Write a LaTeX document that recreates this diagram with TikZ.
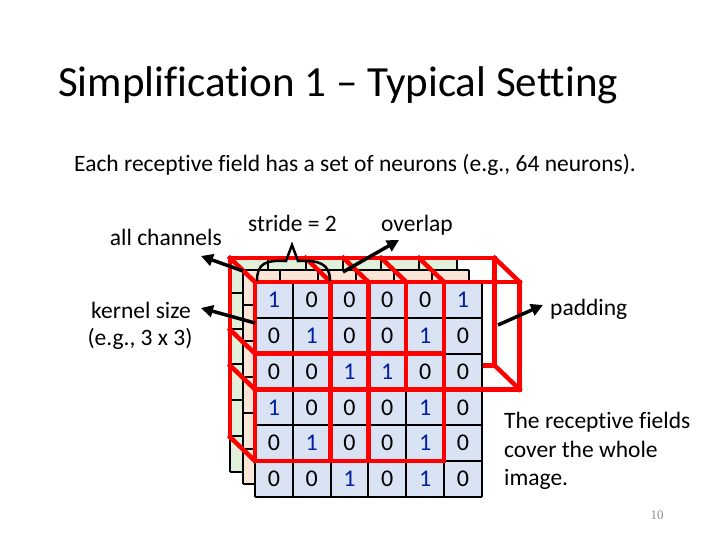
\documentclass[tikz,border=0pt]{standalone}
\usepackage{fontspec}
\setmainfont[Ligatures=CommonOff]{Carlito}
\newfontfamily\pagefont{Liberation Serif}
\usepackage{xcolor}
\usepackage{tikz}
\usetikzlibrary{arrows.meta}

\definecolor{cellblue}{RGB}{218,227,243}
\definecolor{cellpeach}{RGB}{251,229,214}
\definecolor{cellgreen}{RGB}{226,240,217}
\definecolor{kernred}{RGB}{255,0,0}
\definecolor{onesblue}{RGB}{0,32,160}

\begin{document}
\begin{tikzpicture}[x=1pt, y=-1pt,
  lbl/.style={font=\fontsize{23.5}{28}\selectfont, inner sep=0pt},
  gridline/.style={black, line width=2pt},
  kern/.style={kernred, line width=4.5pt, line join=miter, line cap=rect},
  pointer/.style={black, line width=3.5pt, -{Triangle[length=12pt,width=12pt]}},
  num0/.style={font=\fontsize{24}{28}\selectfont, black},
  num1/.style={font=\fontsize{24}{28}\selectfont, onesblue}]
  \useasboundingbox (0,0) rectangle (720,540);

  % ---- back channels (green, peach) ----
  \foreach \d/\shade in {25/cellgreen, 12.5/cellpeach} {
    \fill[\shade] (255-\d,282-\d) rectangle ++(226.8,214.8);
    \foreach \i in {0,...,6} {
      \draw[gridline] (255-\d+\i*37.8,282-\d) -- ++(0,214.8);
      \draw[gridline] (255-\d,282-\d+\i*35.8) -- ++(226.8,0);
    }
  }

  % ---- kernel boxes: back edges and depth lines ----
  \draw[kern] (230,437) -- (230,258) -- (494.6,258) -- (494.6,365.4) -- (470,365.4);
  \foreach \c in {0,2,3,4,5,7} {
    \draw[kern] (255+\c*37.8,282) -- ++(-25,-24);
  }
  \foreach \r in {2,3,5} {
    \draw[kern] (255,282+\r*35.8) -- ++(-25,-24);
  }
  \draw[kern] (519.6,389.4) -- ++(-25,-24);

  % ---- front channel (blue) with values ----
  \fill[cellblue] (255,282) rectangle ++(226.8,214.8);
  \foreach \i in {0,...,6} {
    \draw[gridline] (255+\i*37.8,282) -- ++(0,214.8);
    \draw[gridline] (255,282+\i*35.8) -- ++(226.8,0);
  }
  \foreach \vals [count=\row from 0] in {{1,0,0,0,0,1},{0,1,0,0,1,0},{0,0,1,1,0,0},{1,0,0,0,1,0},{0,1,0,0,1,0},{0,0,1,0,1,0}} {
    \foreach \v [count=\col from 0] in \vals {
      \node[num\v] (n\row\col) at (255+18.9+\col*37.8,282+17.9+\row*35.8) {\v};
    }
  }

  % ---- kernel boxes: front faces (3 x 3, stride 2) ----
  \foreach \c/\r in {0/0, 2/0, 4/0, 0/2, 2/2} {
    \draw[kern] (255+\c*37.8,282+\r*35.8) rectangle ++(113.4,107.4);
  }

  % ---- stride brace ----
  \coordinate (strideL) at (257,281);
  \coordinate (strideR) at (330,281);
  \coordinate (stridetip) at (292,245);
  \draw[black, line width=2.5pt] (strideL) .. controls (257,263) and (266,260) .. (286,261)
    -- (stridetip) -- (298,261) .. controls (318,260) and (330,263) .. (strideR);

  % ---- texts ----
  \node[font=\fontsize{43}{50}\selectfont, anchor=base west, inner sep=0pt] (title) at (58,97) {Simplification 1 – Typical Setting};
  \node[lbl, anchor=base west] (lead) at (74,172) {Each receptive field has a set of neurons (e.g., 64 neurons).};
  \node[lbl, anchor=base east] (chanlbl) at (222,245) {all channels};
  \node[lbl, anchor=base west] (stridelbl) at (248,231) {stride = 2};
  \node[lbl, anchor=base west] (overlbl) at (381,232) {overlap};
  \node[lbl, anchor=base] (kernlbl) at (141,318) {kernel size};
  \node[lbl, anchor=base] (kernlbl2) at (140,345) {(e.g., 3 x 3)};
  \node[lbl, anchor=base west] (padlbl) at (550,315) {padding};
  \node[lbl, anchor=base west] (cover1) at (504,428) {The receptive fields};
  \node[lbl, anchor=base west] (cover2) at (504,457) {cover the whole};
  \node[lbl, anchor=base west] (cover3) at (504,485) {image.};
  \node[font=\pagefont\fontsize{13}{15}\selectfont, text=black!45, anchor=base] (pagenum) at (657,519) {10};

  % ---- pointers ----
  \coordinate (chanfrom) at (243,271);
  \coordinate (chanto) at (201,256);
  \coordinate (kernfrom) at (255,323);
  \coordinate (kernto) at (201,308);
  \coordinate (overfrom) at (343,272);
  \coordinate (overto) at (399,240);
  \coordinate (padfrom) at (498,325);
  \coordinate (padto) at (543,305);
  \draw[pointer] (chanfrom) -- (chanto);
  \draw[pointer] (kernfrom) -- (kernto);
  \draw[pointer] (overfrom) -- (overto);
  \draw[pointer] (padfrom) -- (padto);
\end{tikzpicture}
\end{document}
